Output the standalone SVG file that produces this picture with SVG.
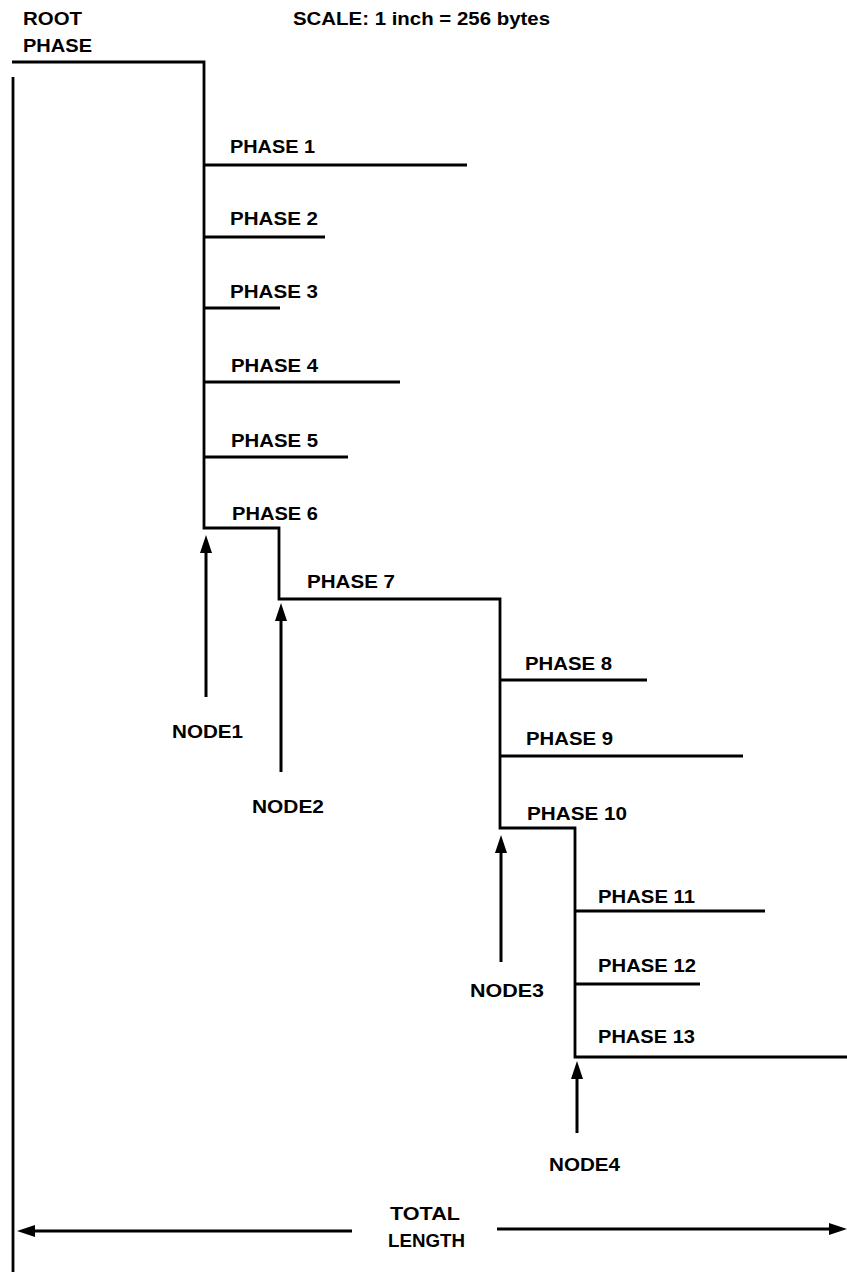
<svg xmlns="http://www.w3.org/2000/svg" width="847" height="1272" viewBox="0 0 847 1272">
  <style>
    .bg { fill: #ffffff; }
    .ln { fill: none; stroke: #000; stroke-width: 2.8; stroke-linecap: butt; stroke-linejoin: miter; }
    .lbl { font-family: "Liberation Sans", Arial, Helvetica, sans-serif; font-weight: bold; font-size: 19px; fill: #000; }
    .arr { fill: none; stroke: #000; stroke-width: 3; marker-end: url(#head); }
  </style>
  <defs>
    <marker id="head" viewBox="0 0 18 12" refX="8" refY="6" markerWidth="18" markerHeight="12" markerUnits="userSpaceOnUse" orient="auto">
      <path d="M0,0 L18,6 L0,12 z" fill="#000"/>
    </marker>
  </defs>
  <rect class="bg" x="0" y="0" width="847" height="1272"/>

  <!-- title and scale -->
  <g id="root-phase">
    <text class="lbl" x="23" y="25" textLength="59" lengthAdjust="spacingAndGlyphs">ROOT</text>
    <text class="lbl" x="23" y="52" textLength="69" lengthAdjust="spacingAndGlyphs">PHASE</text>
  </g>
  <g id="scale">
    <text class="lbl" x="293" y="25" textLength="257" lengthAdjust="spacingAndGlyphs">SCALE: 1 inch = 256 bytes</text>
  </g>

  <!-- overlay tree: spine and nested levels -->
  <g id="connectors">
    <path class="ln" d="M12,62 H204 V528 H279 V599 H500 V828 H575 V1057 H847"/>
    <path class="ln" d="M13,77 V1272"/>
    <!-- node pointers -->
    <path class="arr" d="M206,697 V545"/>
    <path class="arr" d="M281,772 V613"/>
    <path class="arr" d="M501,962 V845"/>
    <path class="arr" d="M577,1133 V1071"/>
    <!-- total length dimension -->
    <path class="arr" d="M352,1231 H27"/>
    <path class="arr" d="M497,1229 H837"/>
  </g>

  <!-- phases -->
  <g id="phase1"><path class="ln" d="M204,165 H467"/><text class="lbl" x="230" y="153" textLength="85" lengthAdjust="spacingAndGlyphs">PHASE 1</text></g>
  <g id="phase2"><path class="ln" d="M204,237 H325"/><text class="lbl" x="230" y="225" textLength="88" lengthAdjust="spacingAndGlyphs">PHASE 2</text></g>
  <g id="phase3"><path class="ln" d="M204,308 H280"/><text class="lbl" x="230" y="298" textLength="88" lengthAdjust="spacingAndGlyphs">PHASE 3</text></g>
  <g id="phase4"><path class="ln" d="M204,382 H400"/><text class="lbl" x="231" y="372" textLength="87" lengthAdjust="spacingAndGlyphs">PHASE 4</text></g>
  <g id="phase5"><path class="ln" d="M204,457 H348"/><text class="lbl" x="231" y="447" textLength="87" lengthAdjust="spacingAndGlyphs">PHASE 5</text></g>
  <g id="phase6"><text class="lbl" x="232" y="520" textLength="86" lengthAdjust="spacingAndGlyphs">PHASE 6</text></g>
  <g id="phase7"><text class="lbl" x="307" y="588" textLength="88" lengthAdjust="spacingAndGlyphs">PHASE 7</text></g>
  <g id="phase8"><path class="ln" d="M500,680 H647"/><text class="lbl" x="525" y="670" textLength="87" lengthAdjust="spacingAndGlyphs">PHASE 8</text></g>
  <g id="phase9"><path class="ln" d="M500,756 H743"/><text class="lbl" x="526" y="745" textLength="87" lengthAdjust="spacingAndGlyphs">PHASE 9</text></g>
  <g id="phase10"><text class="lbl" x="527" y="820" textLength="100" lengthAdjust="spacingAndGlyphs">PHASE 10</text></g>
  <g id="phase11"><path class="ln" d="M575,911 H765"/><text class="lbl" x="598" y="903" textLength="97" lengthAdjust="spacingAndGlyphs">PHASE 11</text></g>
  <g id="phase12"><path class="ln" d="M575,984 H700"/><text class="lbl" x="598" y="972" textLength="98" lengthAdjust="spacingAndGlyphs">PHASE 12</text></g>
  <g id="phase13"><text class="lbl" x="598" y="1043" textLength="97" lengthAdjust="spacingAndGlyphs">PHASE 13</text></g>

  <!-- nodes -->
  <g id="node1"><text class="lbl" x="172" y="738" textLength="71" lengthAdjust="spacingAndGlyphs">NODE1</text></g>
  <g id="node2"><text class="lbl" x="252" y="813" textLength="72" lengthAdjust="spacingAndGlyphs">NODE2</text></g>
  <g id="node3"><text class="lbl" x="470" y="997" textLength="74" lengthAdjust="spacingAndGlyphs">NODE3</text></g>
  <g id="node4"><text class="lbl" x="549" y="1171" textLength="71" lengthAdjust="spacingAndGlyphs">NODE4</text></g>

  <!-- total length label -->
  <g id="total-length">
    <text class="lbl" x="390" y="1220" textLength="70" lengthAdjust="spacingAndGlyphs">TOTAL</text>
    <text class="lbl" x="388" y="1247" textLength="77" lengthAdjust="spacingAndGlyphs">LENGTH</text>
  </g>
</svg>
